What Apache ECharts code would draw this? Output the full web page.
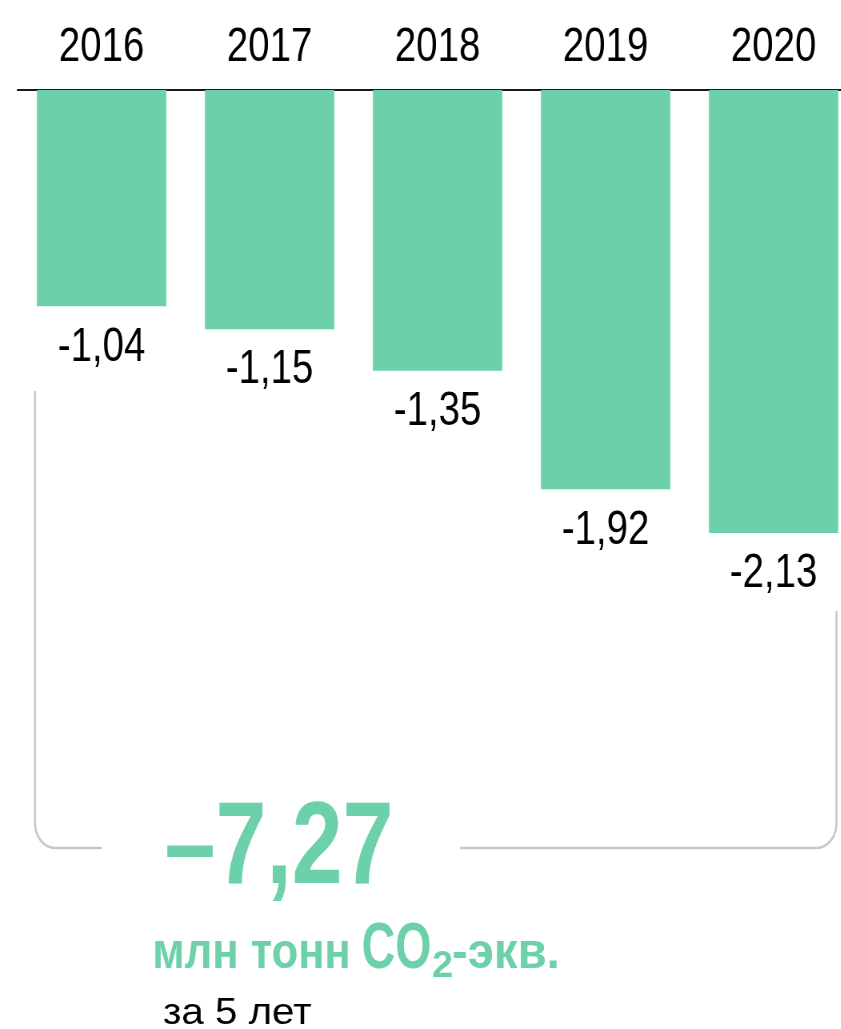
<!DOCTYPE html>
<html>
<head>
<meta charset="utf-8">
<script src="https://cdn.jsdelivr.net/npm/echarts@6/dist/echarts.min.js"></script>
<style>
html,body{margin:0;padding:0;background:#fff;width:841px;height:1029px;overflow:hidden;}
#c{width:1100px;height:1029px;transform:scaleX(0.8);transform-origin:0 0;}
</style>
</head>
<body>
<div id="c"></div>
<script>
const categories = ['2016', '2017', '2018', '2019', '2020'];
const values = [-1.04, -1.15, -1.35, -1.92, -2.13];
const totalText = '–7,27';
const unitMain = 'млн тонн';
const unitCO = 'CO';
const unitSub = '2';
const unitTail = '-экв.';
const periodText = 'за 5 лет';

const S = 0.8;                       // horizontal condensing (narrow typeface look)
const FAM = "'Liberation Sans', Arial, sans-serif";
const GREEN = '#6CD0A8';
const GRAY = '#c6c6c6';

const mctx = document.createElement('canvas').getContext('2d');
// place a text so its ink spans [left,right] (final px) with given alphabetic baseline
function fitText(text, weight, size, left, right, baseline, color) {
  mctx.font = weight + ' ' + size + 'px ' + FAM;
  mctx.textBaseline = 'middle';
  const m = mctx.measureText(text);
  const ink = m.actualBoundingBoxLeft + m.actualBoundingBoxRight;
  const net = (right - left) / ink;
  const h = mctx.measureText('H');
  const off = h.actualBoundingBoxDescent;
  return {
    type: 'text',
    x: (left + m.actualBoundingBoxLeft * net) / S,
    y: baseline - off,
    scaleX: net / S,
    style: {text: text, fontFamily: FAM, fontWeight: weight, fontSize: size, fill: color, verticalAlign: 'middle', align: 'left'}
  };
}

const R = 25;
const X = v => v / S;
const ls = {fill: null, stroke: GRAY, lineWidth: 2.5};

const chart = echarts.init(document.getElementById('c'), null, {renderer: 'canvas'});
const option = {
  animation: false,
  backgroundColor: '#fff',
  grid: {left: X(17.6), width: X(840), top: 90, bottom: 107, containLabel: false},
  xAxis: {
    type: 'category', position: 'top', data: categories,
    axisLine: {show: true, lineStyle: {color: '#1a1a1a', width: 2}},
    axisTick: {show: false},
    axisLabel: {fontFamily: FAM, fontSize: 48, color: '#000', margin: 18}
  },
  yAxis: {type: 'value', min: -4, max: 0, show: false, splitLine: {show: false}},
  series: [{
    type: 'bar', data: values, barCategoryGap: '23%',
    itemStyle: {color: GREEN},
    label: {
      show: true, position: 'bottom', distance: 17,
      fontFamily: FAM, fontSize: 48, color: '#000',
      formatter: p => p.value.toFixed(2).replace('.', ',')
    }
  }],
  graphic: [
    {type: 'line', shape: {x1: X(35), y1: 391, x2: X(35), y2: 848 - R}, style: ls},
    {type: 'arc', shape: {cx: X(35) + R, cy: 848 - R, r: R, startAngle: Math.PI / 2, endAngle: Math.PI, clockwise: true}, style: ls},
    {type: 'line', shape: {x1: X(35) + R, y1: 848, x2: X(102), y2: 848}, style: ls},
    {type: 'line', shape: {x1: X(460), y1: 848, x2: X(836.5) - R, y2: 848}, style: ls},
    {type: 'arc', shape: {cx: X(836.5) - R, cy: 848 - R, r: R, startAngle: 0, endAngle: Math.PI / 2, clockwise: true}, style: ls},
    {type: 'line', shape: {x1: X(836.5), y1: 848 - R, x2: X(836.5), y2: 611}, style: ls},
    fitText(totalText, 'bold', 116, 167, 390, 883, GREEN),
    fitText(unitMain, 'bold', 50, 155, 348, 968, GREEN),
    fitText(unitCO, 'bold', 64, 363, 430, 968, GREEN),
    fitText(unitSub, 'bold', 36, 433, 452, 977, GREEN),
    fitText(unitTail, 'bold', 50, 453, 557, 968, GREEN),
    fitText(periodText, 'normal', 36, 163, 311, 1024, '#000')
  ]
};
chart.setOption(option);
</script>
</body>
</html>
